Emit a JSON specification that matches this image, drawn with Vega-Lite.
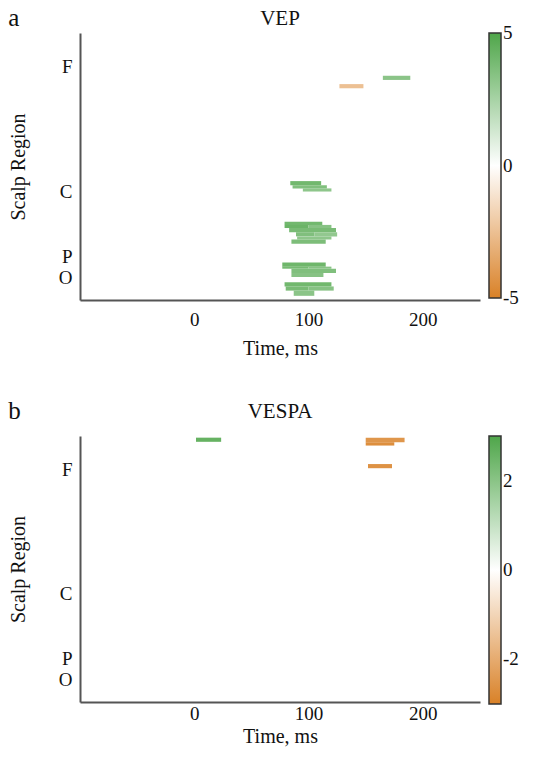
{
  "$schema": "https://vega.github.io/schema/vega-lite/v6.json",
  "background": "white",
  "padding": {"left": 8, "top": 6, "right": 5, "bottom": 3},
  "config": {
    "font": "Liberation Serif",
    "view": {"stroke": null},
    "axis": {
      "labelFont": "Liberation Serif", "titleFont": "Liberation Serif",
      "labelFontSize": 19, "titleFontSize": 20, "titleFontWeight": "normal",
      "labelColor": "#111", "titleColor": "#111",
      "domainColor": "#555", "domainWidth": 2, "ticks": false, "grid": false
    },
    "legend": {
      "labelFont": "Liberation Serif", "labelFontSize": 19, "labelColor": "#111",
      "gradientThickness": 12, "gradientStrokeColor": "#333", "gradientStrokeWidth": 1.5,
      "offset": 9, "labelOffset": 6, "direction": "vertical", "orient": "right"
    },
    "title": {"font": "Liberation Serif", "fontSize": 21, "fontWeight": "normal", "color": "#111", "offset": 4},
    "concat": {"spacing": 41}
  },
  "resolve": {"scale": {"color": "independent"}, "legend": {"color": "independent"}},
  "vconcat": [
    {
      "title": {"text": "a", "anchor": "start", "frame": "bounds", "fontSize": 25, "dy": 27},
      "vconcat": [
        {
          "title": {"text": "VEP", "offset": 4},
          "width": 400, "height": 267,
          "data": {"values": [
            {"t0": 165, "t1": 189, "c0": 20.5, "c1": 22.5, "v": 3.3},
            {"t0": 127, "t1": 148, "c0": 24.5, "c1": 26.5, "v": -2.5},
            {"t0": 84, "t1": 111, "c0": 71, "c1": 73, "v": 4.0},
            {"t0": 86, "t1": 116, "c0": 73, "c1": 74.5, "v": 3.6},
            {"t0": 95, "t1": 120, "c0": 74.5, "c1": 76, "v": 3.2},
            {"t0": 79, "t1": 112, "c0": 90.5, "c1": 92, "v": 4.0},
            {"t0": 79, "t1": 100, "c0": 92, "c1": 93.5, "v": 4.2},
            {"t0": 100, "t1": 120, "c0": 92, "c1": 93.5, "v": 3.4},
            {"t0": 83, "t1": 124, "c0": 93.5, "c1": 95.5, "v": 3.8},
            {"t0": 89, "t1": 105, "c0": 95.5, "c1": 97.5, "v": 3.6},
            {"t0": 105, "t1": 125, "c0": 95.5, "c1": 97.5, "v": 3.1},
            {"t0": 90, "t1": 120, "c0": 97.5, "c1": 99, "v": 3.2},
            {"t0": 85, "t1": 115, "c0": 99, "c1": 101, "v": 3.7},
            {"t0": 77, "t1": 115, "c0": 110, "c1": 112, "v": 4.1},
            {"t0": 77, "t1": 100, "c0": 112, "c1": 113, "v": 3.9},
            {"t0": 100, "t1": 120, "c0": 112, "c1": 113, "v": 3.4},
            {"t0": 85, "t1": 124, "c0": 113, "c1": 115, "v": 3.6},
            {"t0": 85, "t1": 113, "c0": 115, "c1": 117, "v": 3.4},
            {"t0": 79, "t1": 120, "c0": 119.5, "c1": 121.5, "v": 4.0},
            {"t0": 80, "t1": 100, "c0": 121.5, "c1": 123.5, "v": 3.8},
            {"t0": 100, "t1": 122, "c0": 121.5, "c1": 123.5, "v": 3.4},
            {"t0": 87, "t1": 105, "c0": 123.5, "c1": 126, "v": 3.3}
          ]},
          "mark": {"type": "rect"},
          "encoding": {
            "x": {"field": "t0", "type": "quantitative", "scale": {"domain": [-100, 250], "nice": false},
                  "axis": {"values": [0, 100, 200], "title": "Time, ms", "labelPadding": 10, "titlePadding": 9}},
            "x2": {"field": "t1"},
            "y": {"field": "c0", "type": "quantitative", "scale": {"domain": [0, 128], "reverse": true, "nice": false},
                  "axis": {"values": [16, 76, 107, 117], "labelExpr": "datum.value == 16 ? 'F' : datum.value == 76 ? 'C' : datum.value == 107 ? 'P' : 'O'",
                           "title": "Scalp Region", "labelPadding": 8, "titlePadding": 30}},
            "y2": {"field": "c1"},
            "color": {"field": "v", "type": "quantitative",
                      "scale": {"domain": [-5, 0, 5], "range": ["#d98127", "#ffffff", "#4fa64a"], "interpolate": "rgb"},
                      "legend": {"title": null, "values": [-5, 0, 5], "gradientLength": 265, "labelFont": "Liberation Serif",
                                 "labelExpr": "datum.value < 0 ? '-' + abs(datum.value) : '' + datum.value",
                                 "encode": {"labels": {"update": {"baseline": {"value": "middle"}}}}}}
          }
        }
      ]
    },
    {
      "title": {"text": "b", "anchor": "start", "frame": "bounds", "fontSize": 25, "dy": 27},
      "vconcat": [
        {
          "title": {"text": "VESPA", "offset": 14},
          "width": 400, "height": 266,
          "data": {"values": [
            {"t0": 1.5, "t1": 23.5, "c0": 0.8, "c1": 2.8, "v": 2.6},
            {"t0": 150, "t1": 184, "c0": 0.8, "c1": 3, "v": -2.5},
            {"t0": 150, "t1": 175, "c0": 3, "c1": 4.6, "v": -2.7},
            {"t0": 152, "t1": 173, "c0": 13.5, "c1": 15.5, "v": -2.6}
          ]},
          "mark": {"type": "rect"},
          "encoding": {
            "x": {"field": "t0", "type": "quantitative", "scale": {"domain": [-100, 250], "nice": false},
                  "axis": {"values": [0, 100, 200], "title": "Time, ms", "labelPadding": 2, "titlePadding": 3}},
            "x2": {"field": "t1"},
            "y": {"field": "c0", "type": "quantitative", "scale": {"domain": [0, 128], "reverse": true, "nice": false},
                  "axis": {"values": [16, 76, 107, 117], "labelExpr": "datum.value == 16 ? 'F' : datum.value == 76 ? 'C' : datum.value == 107 ? 'P' : 'O'",
                           "title": "Scalp Region", "labelPadding": 8, "titlePadding": 30}},
            "y2": {"field": "c1"},
            "color": {"field": "v", "type": "quantitative",
                      "scale": {"domain": [-3, 0, 3], "range": ["#d98127", "#ffffff", "#4fa64a"], "interpolate": "rgb"},
                      "legend": {"title": null, "values": [-2, 0, 2], "gradientLength": 268, "labelFont": "Liberation Serif",
                                 "labelExpr": "datum.value < 0 ? '-' + abs(datum.value) : '' + datum.value",
                                 "encode": {"labels": {"update": {"baseline": {"value": "middle"}}}}}}
          }
        }
      ]
    }
  ]
}
